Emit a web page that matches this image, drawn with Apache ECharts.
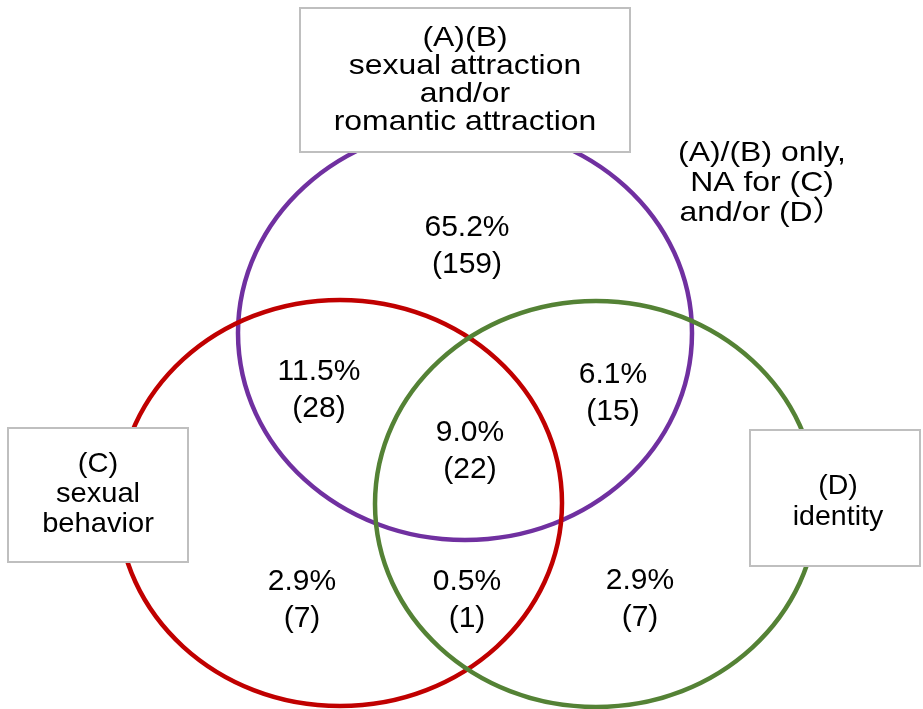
<!DOCTYPE html>
<html>
<head>
<meta charset="utf-8">
<script src="https://cdn.jsdelivr.net/npm/echarts@6/dist/echarts.min.js"></script>
<style>
  html, body { margin: 0; padding: 0; background: #fff; }
  #chart { width: 923px; height: 709px; }
</style>
</head>
<body>
<div id="chart"></div>
<script>
// sets: name, centre and half-axes in plot units (y runs downward)
const setNames = ['(A)(B)\nsexual attraction\nand/or\nromantic attraction', '(C)\nsexual\nbehavior', '(D)\nidentity']
const setCx = [465, 340, 596]
const setCy = [333, 503, 504]
const setRx = [227, 222, 221]
const setRy = [207, 203, 203]

// regions: share and count
const regionPct = ['65.2', '11.5', '6.1', '9.0', '2.9', '0.5', '2.9']
const regionCount = [159, 28, 15, 22, 7, 1, 7]

// layout
const setColors = ['#7030a0', '#c00000', '#548235']
const regionX = [467, 319, 613, 470, 302, 467, 640]
const regionY = [246, 390, 393, 451, 600, 600, 599]
const boxLeft = [300, 8, 750]
const boxTop = [8, 428, 430]
const boxRight = [630, 188, 920]
const boxBottom = [152, 562, 566]
const boxTextX = [465, 98, 838]
const boxTextY = [80, 494, 502]
const boxLineHeight = [28, 30, 31]
const boxStretch = [1.14, 1.04, 1.02]

const noteText = '(A)/(B) only,\nNA for (C)\nand/or (D）'
const noteX = 762
const noteY = 183

const FONT = '"Liberation Sans", Arial, "Noto Sans CJK JP", sans-serif'

function renderSet(params, api) {
  const i = params.dataIndex
  const c = api.coord([api.value(0), api.value(1)])
  // api.size gives the pixel length of a data span, so half-axes map straight over
  const s = api.size([api.value(2), api.value(3)])
  return {
    type: 'ellipse',
    shape: { cx: c[0], cy: c[1], rx: s[0], ry: s[1] },
    style: { fill: 'none', stroke: setColors[i], lineWidth: 4.5 },
  }
}

function renderBox(params, api) {
  const i = params.dataIndex
  const p0 = api.coord([api.value(0), api.value(1)])
  const p1 = api.coord([api.value(2), api.value(3)])
  const t = api.coord([boxTextX[i], boxTextY[i]])
  return {
    type: 'group',
    children: [
      {
        type: 'rect',
        shape: { x: p0[0], y: p0[1], width: p1[0] - p0[0], height: p1[1] - p0[1] },
        style: { fill: '#fff', stroke: '#bfbfbf', lineWidth: 2 },
      },
      {
        type: 'text',
        x: t[0],
        y: t[1],
        scaleX: boxStretch[i],
        style: {
          text: setNames[i],
          fill: '#000',
          fontSize: 28,
          fontFamily: FONT,
          lineHeight: boxLineHeight[i],
          align: 'center',
          verticalAlign: 'middle',
        },
      },
    ],
  }
}

function renderNote(params, api) {
  const t = api.coord([api.value(0), api.value(1)])
  return {
    type: 'text',
    x: t[0],
    y: t[1],
    scaleX: 1.14,
    style: {
      text: noteText,
      fill: '#000',
      fontSize: 28,
      fontFamily: FONT,
      lineHeight: 30,
      align: 'center',
      verticalAlign: 'middle',
    },
  }
}

const chart = echarts.init(document.getElementById('chart'))
chart.setOption({
  animation: false,
  backgroundColor: '#fff',
  grid: { left: 0, right: 0, top: 0, bottom: 0 },
  xAxis: { type: 'value', min: 0, max: 923, show: false },
  yAxis: { type: 'value', min: 0, max: 709, inverse: true, show: false },
  series: [
    {
      type: 'custom',
      z: 2,
      renderItem: renderSet,
      data: setNames.map((n, i) => [setCx[i], setCy[i], setRx[i], setRy[i]]),
      silent: true,
    },
    {
      type: 'custom',
      z: 3,
      renderItem: renderBox,
      data: setNames.map((n, i) => [boxLeft[i], boxTop[i], boxRight[i], boxBottom[i]]),
      silent: true,
    },
    {
      type: 'custom',
      z: 3,
      renderItem: renderNote,
      data: [[noteX, noteY]],
      silent: true,
    },
    {
      type: 'scatter',
      z: 4,
      symbolSize: 0,
      silent: true,
      itemStyle: { opacity: 1 },
      data: regionPct.map((p, i) => ({ value: [regionX[i], regionY[i]], pct: p, n: regionCount[i] })),
      label: {
        show: true,
        position: 'inside',
        color: '#000',
        fontSize: 30,
        fontFamily: FONT,
        lineHeight: 37,
        align: 'center',
        verticalAlign: 'middle',
        formatter: (p) => p.data.pct + '%\n(' + p.data.n + ')',
      },
    },
  ],
})
window.addEventListener('resize', () => chart.resize())
</script>
</body>
</html>
